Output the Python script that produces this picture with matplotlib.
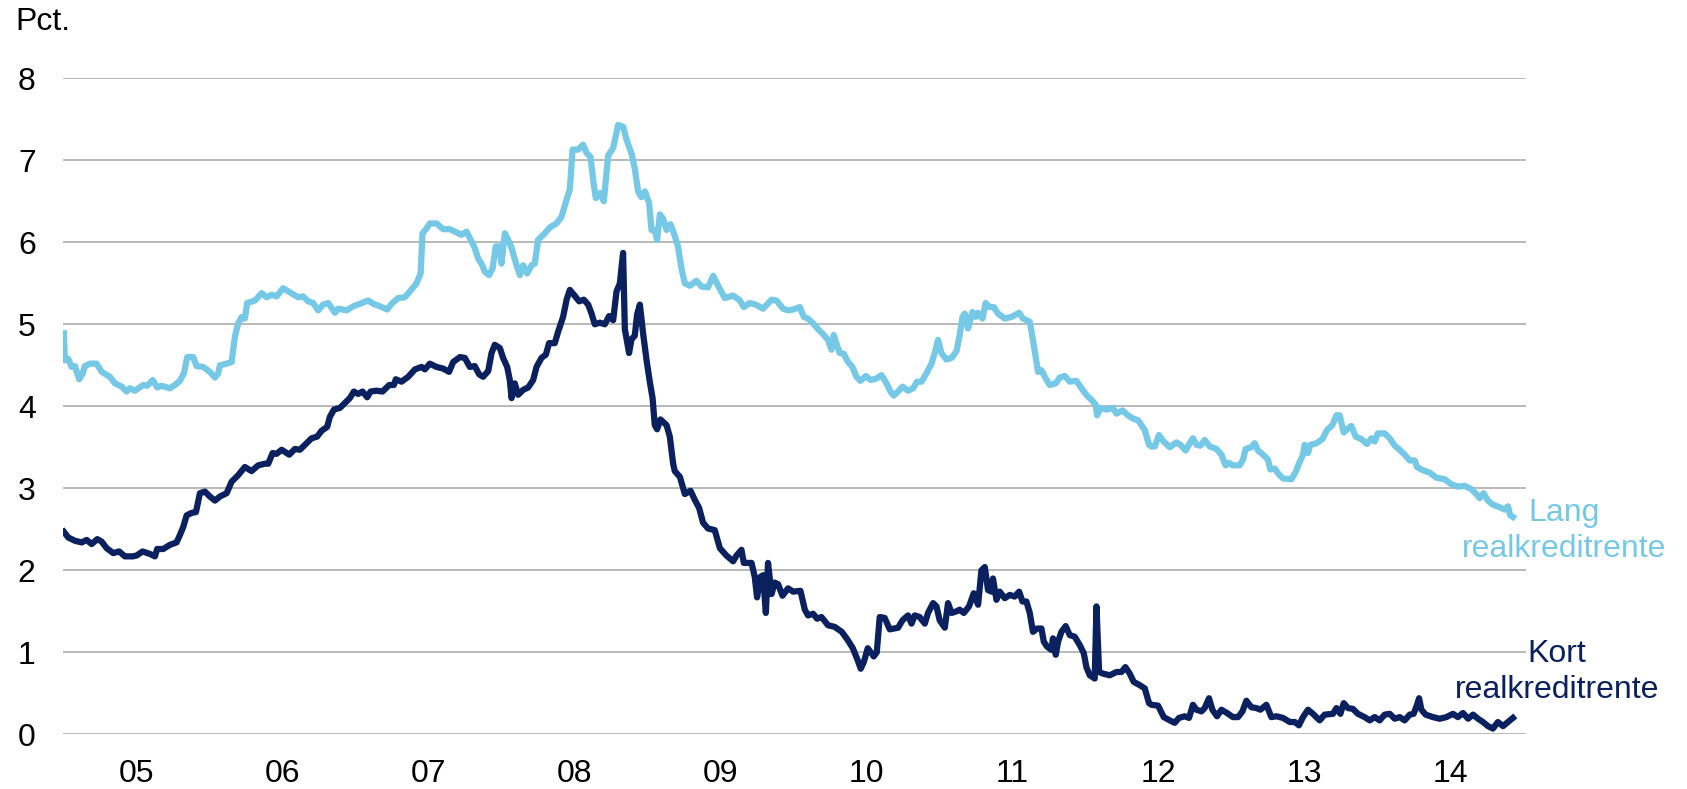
import matplotlib.pyplot as plt

plt.rcParams["font.family"] = ["Liberation Sans", "DejaVu Sans"]

# decimal year, pct
lang_year = [
    2005.003, 2005.010, 2005.033, 2005.056, 2005.079, 2005.108, 2005.132, 2005.147, 2005.182, 2005.227,
    2005.262, 2005.318, 2005.353, 2005.399, 2005.433, 2005.455, 2005.490, 2005.547, 2005.574, 2005.611,
    2005.642, 2005.673, 2005.729, 2005.764, 2005.798, 2005.825, 2005.848, 2005.889, 2005.912, 2005.958,
    2006.003, 2006.038, 2006.060, 2006.072, 2006.118, 2006.152, 2006.175, 2006.197, 2006.221, 2006.243,
    2006.259, 2006.312, 2006.358, 2006.392, 2006.426, 2006.460, 2006.505, 2006.551, 2006.608, 2006.642,
    2006.677, 2006.711, 2006.745, 2006.779, 2006.814, 2006.860, 2006.882, 2006.940, 2006.985,
    2007.031, 2007.088, 2007.122, 2007.168, 2007.218, 2007.248, 2007.293, 2007.339, 2007.373, 2007.419,
    2007.447, 2007.460, 2007.488, 2007.510, 2007.556, 2007.601, 2007.647, 2007.693, 2007.727, 2007.762,
    2007.796, 2007.818, 2007.841, 2007.864, 2007.887, 2007.916, 2007.940, 2007.962, 2007.985,
    2008.001, 2008.024, 2008.047, 2008.070, 2008.104, 2008.127, 2008.149, 2008.177, 2008.207, 2008.229,
    2008.252, 2008.298, 2008.332, 2008.378, 2008.412, 2008.447, 2008.469, 2008.488, 2008.526, 2008.560,
    2008.584, 2008.611, 2008.629, 2008.647, 2008.675, 2008.702, 2008.732, 2008.766, 2008.800, 2008.834,
    2008.858, 2008.892, 2008.914, 2008.937, 2008.960, 2008.983,
    2009.012, 2009.029, 2009.051, 2009.067, 2009.086, 2009.108, 2009.132, 2009.159, 2009.188, 2009.211,
    2009.234, 2009.257, 2009.291, 2009.337, 2009.371, 2009.416, 2009.451, 2009.497, 2009.531, 2009.588,
    2009.634, 2009.661, 2009.702, 2009.743, 2009.793, 2009.851, 2009.885, 2009.930, 2009.964, 2009.999,
    2010.045, 2010.072, 2010.101, 2010.136, 2010.170, 2010.204, 2010.238, 2010.262, 2010.277, 2010.300,
    2010.318, 2010.346, 2010.375, 2010.405, 2010.433, 2010.460, 2010.497, 2010.529, 2010.570, 2010.604,
    2010.638, 2010.666, 2010.688, 2010.718, 2010.748, 2010.786, 2010.821, 2010.848, 2010.878, 2010.912,
    2010.947, 2010.969, 2010.992,
    2011.015, 2011.049, 2011.084, 2011.118, 2011.140, 2011.159, 2011.175, 2011.197, 2011.227, 2011.250,
    2011.266, 2011.296, 2011.318, 2011.346, 2011.373, 2011.403, 2011.449, 2011.495, 2011.547, 2011.574,
    2011.620, 2011.638, 2011.661, 2011.677, 2011.700, 2011.729, 2011.757, 2011.798, 2011.825, 2011.860,
    2011.894, 2011.940, 2011.974,
    2012.008, 2012.042, 2012.072, 2012.081, 2012.104, 2012.145, 2012.190, 2012.214, 2012.255, 2012.293,
    2012.327, 2012.362, 2012.385, 2012.408, 2012.437, 2012.453, 2012.476, 2012.505, 2012.538, 2012.579,
    2012.625, 2012.652, 2012.688, 2012.716, 2012.738, 2012.762, 2012.789, 2012.818, 2012.853, 2012.899,
    2012.933, 2012.962, 2012.985,
    2013.012, 2013.058, 2013.081, 2013.099, 2013.138, 2013.161, 2013.184, 2013.218, 2013.252, 2013.268,
    2013.298, 2013.327, 2013.355, 2013.412, 2013.442, 2013.464, 2013.492, 2013.503, 2013.526, 2013.542,
    2013.584, 2013.625, 2013.656, 2013.693, 2013.721, 2013.743, 2013.771, 2013.800, 2013.823, 2013.853,
    2013.892, 2013.930, 2013.960, 2013.983,
    2014.005, 2014.051, 2014.086, 2014.120, 2014.154, 2014.188, 2014.223, 2014.257, 2014.273, 2014.314,
    2014.360, 2014.405, 2014.462, 2014.508, 2014.553, 2014.599, 2014.645, 2014.679, 2014.702, 2014.729,
    2014.759, 2014.793, 2014.839, 2014.873, 2014.896, 2014.912, 2014.930,
]
lang_pct = [
    4.89, 4.56, 4.58, 4.48, 4.49, 4.33, 4.40, 4.49, 4.52, 4.52,
    4.42, 4.36, 4.28, 4.24, 4.18, 4.22, 4.19, 4.26, 4.25, 4.32,
    4.23, 4.25, 4.22, 4.26, 4.31, 4.40, 4.60, 4.60, 4.49, 4.48,
    4.42, 4.35, 4.40, 4.50, 4.52, 4.54, 4.85, 5.01, 5.09, 5.07,
    5.26, 5.29, 5.38, 5.33, 5.36, 5.34, 5.44, 5.39, 5.33, 5.34,
    5.28, 5.26, 5.17, 5.24, 5.26, 5.14, 5.19, 5.17, 5.22,
    5.25, 5.29, 5.25, 5.22, 5.18, 5.25, 5.32, 5.33, 5.40, 5.50,
    5.62, 6.11, 6.17, 6.23, 6.23, 6.16, 6.16, 6.12, 6.09, 6.13,
    6.01, 5.93, 5.80, 5.74, 5.64, 5.60, 5.68, 5.95, 5.95,
    5.74, 6.11, 6.03, 5.93, 5.72, 5.60, 5.72, 5.62, 5.72, 5.74,
    6.03, 6.11, 6.18, 6.23, 6.31, 6.52, 6.64, 7.13, 7.13, 7.19,
    7.09, 7.04, 6.76, 6.54, 6.60, 6.50, 7.06, 7.15, 7.43, 7.41,
    7.25, 7.08, 6.90, 6.62, 6.55, 6.62,
    6.48, 6.15, 6.15, 6.03, 6.34, 6.29, 6.15, 6.22, 6.08, 5.94,
    5.68, 5.50, 5.47, 5.53, 5.46, 5.45, 5.59, 5.43, 5.32, 5.35,
    5.29, 5.21, 5.26, 5.24, 5.19, 5.30, 5.29, 5.19, 5.17, 5.18,
    5.21, 5.09, 5.07, 5.01, 4.94, 4.88, 4.81, 4.69, 4.87, 4.74,
    4.65, 4.64, 4.54, 4.48, 4.36, 4.31, 4.37, 4.32, 4.34, 4.38,
    4.28, 4.18, 4.13, 4.18, 4.24, 4.19, 4.22, 4.30, 4.30, 4.40,
    4.52, 4.65, 4.81,
    4.65, 4.57, 4.59, 4.67, 4.87, 5.09, 5.13, 4.95, 5.15, 5.09,
    5.14, 5.07, 5.26, 5.21, 5.21, 5.13, 5.07, 5.09, 5.14, 5.07,
    5.03, 4.85, 4.60, 4.42, 4.44, 4.34, 4.26, 4.28, 4.35, 4.37,
    4.30, 4.31, 4.22,
    4.14, 4.08, 4.02, 3.89, 3.98, 3.96, 3.98, 3.91, 3.95, 3.89,
    3.85, 3.83, 3.77, 3.71, 3.53, 3.51, 3.51, 3.65, 3.57, 3.50,
    3.56, 3.53, 3.46, 3.55, 3.61, 3.53, 3.52, 3.59, 3.51, 3.48,
    3.41, 3.28, 3.31,
    3.28, 3.28, 3.35, 3.48, 3.50, 3.55, 3.46, 3.41, 3.35, 3.23,
    3.24, 3.17, 3.12, 3.11, 3.20, 3.30, 3.41, 3.53, 3.43, 3.53,
    3.55, 3.60, 3.71, 3.77, 3.89, 3.89, 3.68, 3.73, 3.76, 3.63,
    3.60, 3.54, 3.61, 3.57,
    3.67, 3.67, 3.61, 3.52, 3.47, 3.41, 3.34, 3.34, 3.26, 3.22,
    3.19, 3.13, 3.11, 3.05, 3.02, 3.03, 2.99, 2.93, 2.88, 2.94,
    2.85, 2.80, 2.77, 2.74, 2.78, 2.67, 2.65,
]

kort_year = [
    2005.003, 2005.033, 2005.079, 2005.125, 2005.159, 2005.193, 2005.232, 2005.262, 2005.296, 2005.341,
    2005.382, 2005.421, 2005.474, 2005.501, 2005.542, 2005.592, 2005.627, 2005.642, 2005.684, 2005.729,
    2005.775, 2005.798, 2005.821, 2005.844, 2005.878, 2005.908, 2005.935, 2005.969,
    2006.003, 2006.038, 2006.072, 2006.118, 2006.152, 2006.197, 2006.243, 2006.289, 2006.334, 2006.380,
    2006.403, 2006.433, 2006.460, 2006.495, 2006.547, 2006.586, 2006.620, 2006.666, 2006.700, 2006.738,
    2006.768, 2006.807, 2006.825, 2006.853, 2006.894, 2006.928, 2006.962, 2006.990,
    2007.019, 2007.049, 2007.081, 2007.104, 2007.145, 2007.186, 2007.232, 2007.264, 2007.277, 2007.316,
    2007.362, 2007.408, 2007.453, 2007.476, 2007.510, 2007.556, 2007.601, 2007.642, 2007.670, 2007.716,
    2007.750, 2007.784, 2007.818, 2007.848, 2007.875, 2007.910, 2007.933, 2007.955, 2007.990,
    2008.012, 2008.040, 2008.058, 2008.070, 2008.092, 2008.115, 2008.149, 2008.184, 2008.218, 2008.241,
    2008.275, 2008.305, 2008.327, 2008.366, 2008.389, 2008.423, 2008.447, 2008.469, 2008.497, 2008.533,
    2008.565, 2008.595, 2008.618, 2008.640, 2008.675, 2008.709, 2008.738, 2008.766, 2008.789, 2008.812,
    2008.834, 2008.846, 2008.875, 2008.892, 2008.914, 2008.930, 2008.949, 2008.971, 2008.995,
    2009.017, 2009.036, 2009.051, 2009.067, 2009.090, 2009.132, 2009.154, 2009.177, 2009.188, 2009.223,
    2009.257, 2009.296, 2009.325, 2009.355, 2009.382, 2009.416, 2009.462, 2009.497, 2009.542, 2009.588,
    2009.611, 2009.645, 2009.661, 2009.714, 2009.736, 2009.752, 2009.775, 2009.793, 2009.812, 2009.827,
    2009.851, 2009.873, 2009.896, 2009.926, 2009.964, 2009.999,
    2010.049, 2010.079, 2010.101, 2010.136, 2010.163, 2010.193, 2010.238, 2010.284, 2010.332, 2010.373,
    2010.408, 2010.442, 2010.462, 2010.483, 2010.510, 2010.531, 2010.551, 2010.572, 2010.592, 2010.626,
    2010.661, 2010.718, 2010.748, 2010.786, 2010.810, 2010.832, 2010.866, 2010.901, 2010.923, 2010.958,
    2010.981,
    2011.003, 2011.038, 2011.060, 2011.084, 2011.118, 2011.140, 2011.168, 2011.204, 2011.236, 2011.266,
    2011.289, 2011.312, 2011.334, 2011.357, 2011.368, 2011.392, 2011.414, 2011.449, 2011.483, 2011.517,
    2011.547, 2011.570, 2011.597, 2011.620, 2011.642, 2011.670, 2011.700, 2011.716, 2011.738, 2011.768,
    2011.779, 2011.798, 2011.814, 2011.837, 2011.866, 2011.894, 2011.928, 2011.962, 2011.990,
    2012.008, 2012.031, 2012.065, 2012.077, 2012.095, 2012.122, 2012.168, 2012.214, 2012.248, 2012.275,
    2012.305, 2012.332, 2012.373, 2012.408, 2012.437, 2012.453, 2012.499, 2012.538, 2012.579, 2012.613,
    2012.642, 2012.681, 2012.711, 2012.738, 2012.762, 2012.796, 2012.818, 2012.848, 2012.871, 2012.903,
    2012.933, 2012.971,
    2013.012, 2013.047, 2013.077, 2013.104, 2013.138, 2013.173, 2013.200, 2013.241, 2013.275, 2013.310,
    2013.355, 2013.401, 2013.436, 2013.464, 2013.492, 2013.526, 2013.560, 2013.606, 2013.640, 2013.697,
    2013.721, 2013.748, 2013.771, 2013.800, 2013.834, 2013.868, 2013.914, 2013.949, 2013.983,
    2014.017, 2014.051, 2014.086, 2014.120, 2014.154, 2014.188, 2014.223, 2014.250, 2014.273, 2014.287,
    2014.303, 2014.332, 2014.382, 2014.428, 2014.474, 2014.519, 2014.553, 2014.588, 2014.623, 2014.657,
    2014.691, 2014.725, 2014.759, 2014.793, 2014.827, 2014.862, 2014.896, 2014.930,
]
kort_pct = [
    2.47, 2.40, 2.36, 2.34, 2.37, 2.32, 2.38, 2.35, 2.27, 2.21,
    2.23, 2.17, 2.17, 2.18, 2.23, 2.20, 2.17, 2.26, 2.26, 2.31,
    2.34, 2.43, 2.53, 2.67, 2.70, 2.71, 2.94, 2.96,
    2.90, 2.85, 2.90, 2.94, 3.08, 3.16, 3.26, 3.21, 3.28, 3.30,
    3.30, 3.43, 3.42, 3.47, 3.41, 3.48, 3.47, 3.55, 3.61, 3.63,
    3.70, 3.75, 3.87, 3.96, 3.98, 4.04, 4.10, 4.18,
    4.15, 4.18, 4.11, 4.18, 4.19, 4.18, 4.26, 4.26, 4.33, 4.30,
    4.36, 4.45, 4.48, 4.45, 4.52, 4.48, 4.46, 4.42, 4.54, 4.60,
    4.59, 4.48, 4.49, 4.39, 4.36, 4.43, 4.65, 4.75, 4.71,
    4.59, 4.48, 4.32, 4.10, 4.28, 4.14, 4.20, 4.23, 4.32, 4.48,
    4.59, 4.63, 4.77, 4.77, 4.91, 5.09, 5.30, 5.42, 5.36, 5.28,
    5.30, 5.24, 5.13, 5.00, 5.02, 5.00, 5.10, 5.05, 5.40, 5.50,
    5.87, 4.94, 4.65, 4.82, 4.86, 5.12, 5.24, 4.89, 4.56,
    4.30, 4.10, 3.77, 3.72, 3.84, 3.77, 3.63, 3.30, 3.21, 3.14,
    2.93, 2.97, 2.86, 2.76, 2.58, 2.51, 2.49, 2.27, 2.18, 2.11,
    2.18, 2.25, 2.09, 2.09, 1.92, 1.67, 1.92, 1.94, 1.48, 2.09,
    1.71, 1.85, 1.83, 1.69, 1.78, 1.74,
    1.75, 1.52, 1.45, 1.47, 1.41, 1.43, 1.33, 1.31, 1.25, 1.15,
    1.05, 0.90, 0.80, 0.88, 1.05, 1.00, 0.95, 1.00, 1.43, 1.42,
    1.28, 1.30, 1.39, 1.45, 1.35, 1.45, 1.43, 1.35, 1.48, 1.60,
    1.56,
    1.39, 1.30, 1.60, 1.48, 1.50, 1.52, 1.48, 1.56, 1.72, 1.58,
    2.00, 2.04, 1.76, 1.74, 1.90, 1.64, 1.74, 1.66, 1.70, 1.68,
    1.74, 1.62, 1.62, 1.48, 1.25, 1.29, 1.29, 1.13, 1.07, 1.03,
    1.17, 0.97, 1.13, 1.25, 1.32, 1.21, 1.19, 1.09, 0.99,
    0.82, 0.72, 0.68, 1.56, 0.76, 0.74, 0.72, 0.76, 0.76, 0.82,
    0.74, 0.64, 0.60, 0.56, 0.38, 0.36, 0.35, 0.21, 0.17, 0.14,
    0.20, 0.22, 0.20, 0.36, 0.30, 0.28, 0.32, 0.44, 0.30, 0.22,
    0.30, 0.26,
    0.21, 0.21, 0.28, 0.41, 0.33, 0.32, 0.30, 0.36, 0.21, 0.22,
    0.20, 0.15, 0.15, 0.11, 0.21, 0.30, 0.25, 0.17, 0.24, 0.25,
    0.32, 0.25, 0.38, 0.32, 0.31, 0.25, 0.21, 0.17, 0.21,
    0.17, 0.24, 0.25, 0.19, 0.21, 0.17, 0.24, 0.25, 0.36, 0.44,
    0.30, 0.24, 0.21, 0.19, 0.21, 0.25, 0.21, 0.26, 0.19, 0.24,
    0.19, 0.15, 0.10, 0.07, 0.15, 0.10, 0.15, 0.20,
]

year_ticks = [2005.5 + i for i in range(10)]
year_labels = ["05", "06", "07", "08", "09", "10", "11", "12", "13", "14"]

lang_color = "#75c8e6"
kort_color = "#0a205f"

fig = plt.figure(figsize=(16.87, 7.89), dpi=100)
ax = fig.add_axes([0.0376, 0.0693, 0.8670, 0.8315])

ax.plot(lang_year, lang_pct, color=lang_color, lw=4.5, solid_joinstyle="round")
ax.plot(kort_year, kort_pct, color=kort_color, lw=4.5, solid_joinstyle="round")

ax.set_xlim(2005, 2015.02)
ax.set_ylim(0, 8)
ax.set_yticks(range(0, 9))
ax.set_xticks(year_ticks)
ax.set_xticklabels(year_labels)
ax.tick_params(axis="both", length=0, labelsize=23)
ax.tick_params(axis="x", pad=18)
ax.tick_params(axis="y", pad=20)
ax.grid(axis="y", color="#a6a6a6", lw=1.1)
ax.set_axisbelow(True)
for s in ax.spines.values():
    s.set_visible(False)

fig.text(15 / 1687, 1 - 22 / 789, "Pct.", fontsize=23, va="center", ha="left")
fig.text(1564 / 1687, 1 - 531 / 789, "Lang\nrealkreditrente", fontsize=23,
         color=lang_color, ha="center", va="center", linespacing=1.22)
fig.text(1557 / 1687, 1 - 672 / 789, "Kort\nrealkreditrente", fontsize=23,
         color=kort_color, ha="center", va="center", linespacing=1.22)

fig.savefig("out.png", dpi=100)
